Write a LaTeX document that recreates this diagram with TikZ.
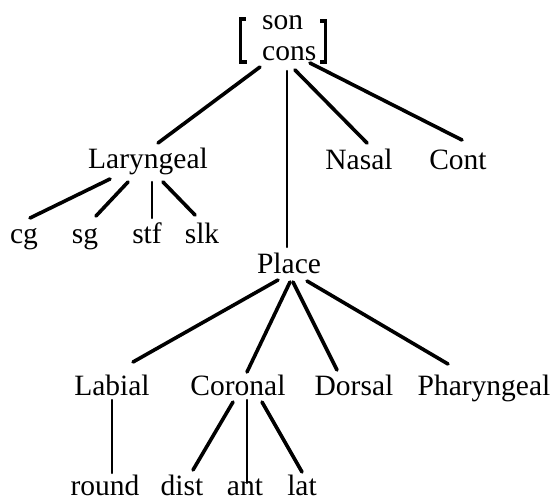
\documentclass[tikz,border=0pt]{standalone}
\usepackage{fontspec}
\setmainfont{Liberation Serif}
\begin{document}
\begin{tikzpicture}[x=1pt,y=-1pt,
  lbl/.style={inner sep=0pt,anchor=base,font=\fontsize{29.5}{32}\selectfont},
  edge/.style={line width=3.6pt,line cap=round},
  vedge/.style={line width=2.4pt,line cap=round},
  brk/.style={line width=3.2pt}]
\useasboundingbox (0,0) rectangle (555,501);
% root matrix
\node[lbl,anchor=base west] (son) at (262,29) {son};
\node[lbl,anchor=base west] (cons) at (262,60) {cons};
\draw[brk] (245.5,19) -- (240.5,19) -- (240.5,62) -- (246.5,62);
\draw[brk] (320,21) -- (325.5,21) -- (325.5,62) -- (320,62);
% level 1
\node[lbl] (lar) at (148,168) {Laryngeal};
\node[lbl] (nas) at (359,169) {Nasal};
\node[lbl] (cont) at (458,169) {Cont};
% laryngeal children
\node[lbl] (cg) at (24,243) {cg};
\node[lbl] (sg) at (85,243) {sg};
\node[lbl] (stf) at (147,243) {stf};
\node[lbl] (slk) at (202,243) {slk};
% place
\node[lbl] (place) at (289,273) {Place};
\node[lbl] (lab) at (112,395) {Labial};
\node[lbl] (cor) at (238,395) {Coronal};
\node[lbl] (dor) at (354,395) {Dorsal};
\node[lbl] (phar) at (484,395) {Pharyngeal};
% bottom
\node[lbl] (round) at (105,495) {round};
\node[lbl] (dist) at (182,495) {dist};
\node[lbl] (ant) at (245,495) {ant};
\node[lbl] (lat) at (302,495) {lat};
% connectors from root
\draw[edge] ([shift={(-2,7)}]cons.base west) -- ([shift={(10,-25)}]lar.base);
\draw[vedge] ([shift={(25,11)}]cons.base west) -- ([shift={(-2,-26)}]place.base);
\draw[edge] ([shift={(33,10)}]cons.base west) -- ([shift={(8,-26)}]nas.base);
\draw[edge] ([shift={(48,3)}]cons.base west) -- ([shift={(4,-29)}]cont.base);
% laryngeal
\draw[edge] ([shift={(-38,11)}]lar.base) -- ([shift={(6,-25)}]cg.base);
\draw[edge] ([shift={(-20,14)}]lar.base) -- ([shift={(11,-27)}]sg.base);
\draw[vedge] ([shift={(4,14)}]lar.base) -- ([shift={(5,-25)}]stf.base);
\draw[edge] ([shift={(15,14)}]lar.base) -- ([shift={(-7,-28)}]slk.base);
% place
\draw[edge] ([shift={(-11,7)}]place.base) -- ([shift={(21,-33)}]lab.base);
\draw[edge] ([shift={(1,9)}]place.base) -- ([shift={(9,-23)}]cor.base);
\draw[edge] ([shift={(4,9)}]place.base) -- ([shift={(-17,-25)}]dor.base);
\draw[edge] ([shift={(18,8)}]place.base) -- ([shift={(-36,-31)}]phar.base);
% bottom
\draw[vedge] ([shift={(0,5)}]lab.base) -- ([shift={(7,-22)}]round.base);
\draw[edge] ([shift={(-5,7)}]cor.base) -- ([shift={(11,-25)}]dist.base);
\draw[vedge] ([shift={(9,5)}]cor.base) -- ([shift={(2,-12)}]ant.base);
\draw[edge] ([shift={(24,7)}]cor.base) -- ([shift={(0,-23)}]lat.base);
\end{tikzpicture}
\end{document}
